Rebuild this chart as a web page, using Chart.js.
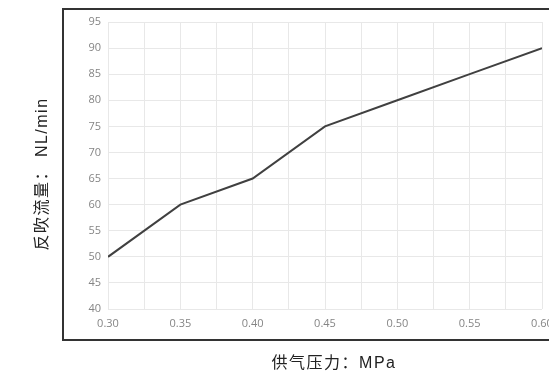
<!DOCTYPE html>
<html>
<head>
<meta charset="utf-8">
<script src="https://cdn.jsdelivr.net/npm/chart.js@4/dist/chart.umd.min.js"></script>
<style>
html,body{margin:0;padding:0;background:#fff;overflow:hidden;}
#wrap{position:relative;width:549px;height:372px;}
</style>
</head>
<body>
<div id="wrap"><canvas id="c" width="549" height="372"></canvas></div>
<script>
const pressure = [0.30, 0.35, 0.40, 0.45, 0.50, 0.55, 0.60];
const flow = [50, 60, 65, 75, 80, 85, 90];
const xTitle = '供气压力：MPa';
const yTitle = '反吹流量： NL/min';
const xMin = 0.30, xMax = 0.60, xStep = 0.025;
const yMin = 40, yMax = 95, yStep = 5;

const framePlugin = {
  id: 'frame',
  afterDraw(chart) {
    const ctx = chart.ctx, a = chart.chartArea;
    ctx.save();
    ctx.strokeStyle = '#333';
    ctx.lineWidth = 2;
    ctx.strokeRect(a.left - 45, a.top - 13, 600, a.bottom - a.top + 44);
    ctx.fillStyle = '#222';
    ctx.font = '16px "Liberation Sans", "Noto Sans CJK SC", sans-serif';
    ctx.letterSpacing = '1.5px';
    ctx.textAlign = 'center';
    ctx.textBaseline = 'middle';
    ctx.fillText(xTitle, 334, 364);
    ctx.translate(43, 174);
    ctx.rotate(-Math.PI / 2);
    ctx.fillText(yTitle, 0, 0);
    ctx.restore();
  }
};

new Chart(document.getElementById('c'), {
  type: 'line',
  data: {
    datasets: [{
      data: pressure.map((p, i) => ({x: p, y: flow[i]})),
      borderColor: '#404040',
      borderWidth: 2,
      pointRadius: 0,
      tension: 0,
      fill: false
    }]
  },
  options: {
    responsive: false,
    animation: false,
    devicePixelRatio: 1,
    layout: {padding: {top: 22, right: 7, bottom: 0, left: 0}},
    plugins: {legend: {display: false}, tooltip: {enabled: false}},
    scales: {
      x: {
        type: 'linear',
        min: xMin, max: xMax,
        afterBuildTicks(scale) {
          const t = [];
          for (let i = 0; i <= Math.round((xMax - xMin) / xStep); i++) t.push({value: +(xMin + i * xStep).toFixed(3)});
          scale.ticks = t;
        },
        afterFit(scale) { scale.height = 63; scale.paddingLeft = 0; scale.paddingRight = 0; },
        border: {display: false},
        grid: {color: '#e8e8e8', lineWidth: 1, drawTicks: false},
        ticks: {
          autoSkip: false, maxRotation: 0, padding: 8,
          color: '#858585',
          font: {family: '"Open Sans", sans-serif', size: 11},
          callback(v) { return Math.round(v * 1000) % 50 === 0 ? v.toFixed(2) : ''; }
        }
      },
      y: {
        min: yMin, max: yMax,
        afterFit(scale) { scale.width = 108; scale.paddingTop = 0; scale.paddingBottom = 0; },
        border: {display: false},
        grid: {color: '#e8e8e8', lineWidth: 1, drawTicks: false},
        ticks: {
          stepSize: yStep, padding: 7,
          color: '#858585',
          font: {family: '"Open Sans", sans-serif', size: 11}
        }
      }
    }
  },
  plugins: [framePlugin]
});
</script>
</body>
</html>
